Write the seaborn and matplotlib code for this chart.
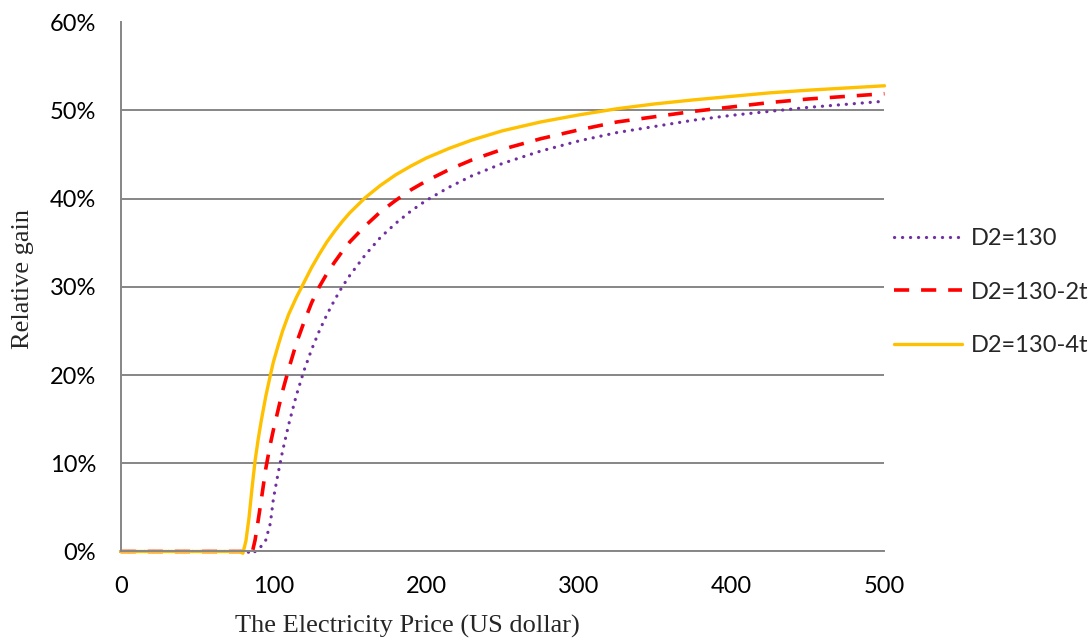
import numpy as np
import pandas as pd
import matplotlib
matplotlib.use("Agg")
import matplotlib.pyplot as plt
from matplotlib.ticker import PercentFormatter
import seaborn as sns

# electricity price (US dollar)
price = [0, 78, 80, 82, 84, 86, 88, 90, 92, 95, 98, 100, 103, 106, 110, 115,
         120, 125, 130, 135, 140, 145, 150, 160, 170, 180, 190, 200, 215, 230,
         250, 275, 300, 325, 350, 375, 400, 425, 450, 475, 500]

# relative gain (%)
gain_130 = [0, 0, 0, 0, -0.1, -0.3, 0, 0.2, 0.6, 1.3, 3.2, 6.0, 8.8, 11.4,
            14.4, 17.7, 20.5, 22.9, 25.0, 26.85, 28.5, 30.0, 31.3, 33.6, 35.6,
            37.2, 38.6, 39.8, 41.3, 42.6, 44.0, 45.4, 46.55, 47.5, 48.2, 48.9,
            49.45, 49.9, 50.35, 50.7, 51.05]
gain_130_2t = [0, 0, 0, 0, 0, -0.2, 1.3, 3.5, 5.8, 9.4, 12.2, 13.8, 16.0, 18.2,
               20.7, 23.6, 26.0, 28.2, 30.0, 31.5, 32.8, 34.0, 35.1, 36.9,
               38.5, 39.8, 41.0, 42.0, 43.3, 44.4, 45.6, 46.8, 47.8, 48.7,
               49.3, 49.9, 50.4, 50.9, 51.3, 51.6, 51.9]
gain_130_4t = [0, 0, -0.2, 1.2, 3.8, 7.2, 10.3, 12.7, 14.8, 17.6, 20.0, 21.5,
               23.3, 25.0, 26.9, 28.8, 30.5, 32.2, 33.7, 35.1, 36.3, 37.4, 38.4,
               40.1, 41.5, 42.7, 43.7, 44.6, 45.7, 46.65, 47.7, 48.7, 49.5,
               50.2, 50.75, 51.2, 51.6, 52.0, 52.3, 52.55, 52.8]

labels = ["D2=130", "D2=130-2t", "D2=130-4t"]

df = pd.DataFrame({
    "price": price * 3,
    "gain": gain_130 + gain_130_2t + gain_130_4t,
    "series": np.repeat(labels, len(price)),
})

sns.set_style("white")
plt.rcParams["font.family"] = ["Lato", "DejaVu Sans"]

grey = "#868686"
styles = {
    "D2=130": dict(color="#7030A0", lw=2.3, ls=(0, (0.05, 2.45)),
                   dash_capstyle="round"),
    "D2=130-2t": dict(color="#FF0000", lw=2.6, ls=(0, (4.2, 3.3)),
                      dash_capstyle="butt"),
    "D2=130-4t": dict(color="#FFC000", lw=2.4, ls="-"),
}

fig = plt.figure(figsize=(10.89, 6.4), dpi=100)
ax = fig.add_axes([0.1108, 0.1383, 0.7014, 0.8269])

for name in labels:
    sub = df[df["series"] == name]
    sns.lineplot(data=sub, x="price", y="gain", ax=ax, label=name,
                 clip_on=False, **styles[name])

ax.set_xlim(0, 500)
ax.set_ylim(0, 60)
ax.set_xticks(range(0, 501, 100))
ax.set_yticks(range(0, 61, 10))
ax.yaxis.set_major_formatter(PercentFormatter(xmax=100, decimals=0))

ax.grid(axis="y", color=grey, lw=1.4)
ax.grid(axis="x", visible=False)
ax.get_ygridlines()[-1].set_visible(False)
ax.set_axisbelow(True)

for s in ["top", "right"]:
    ax.spines[s].set_visible(False)
for s in ["left", "bottom"]:
    ax.spines[s].set_color(grey)
    ax.spines[s].set_linewidth(1.4)

ax.tick_params(axis="both", which="major", direction="out", length=5.5,
               width=1.4, color=grey, labelsize=17, labelcolor="black")
ax.tick_params(axis="x", pad=12)
ax.tick_params(axis="y", pad=12)

ax.set_xlabel("The Electricity Price (US dollar)", family="Liberation Serif",
              fontsize=19)
ax.set_ylabel("Relative gain", family="Liberation Serif", fontsize=19)
ax.xaxis.set_label_coords(0.375, -0.12)
ax.yaxis.set_label_coords(-0.113, 0.515)

leg = ax.legend(loc="center left", bbox_to_anchor=(1.0, 0.49), frameon=False,
                fontsize=17, handlelength=2.9, handletextpad=0.38,
                labelspacing=1.38, borderaxespad=0.0)

fig.savefig("out.png", dpi=100)
